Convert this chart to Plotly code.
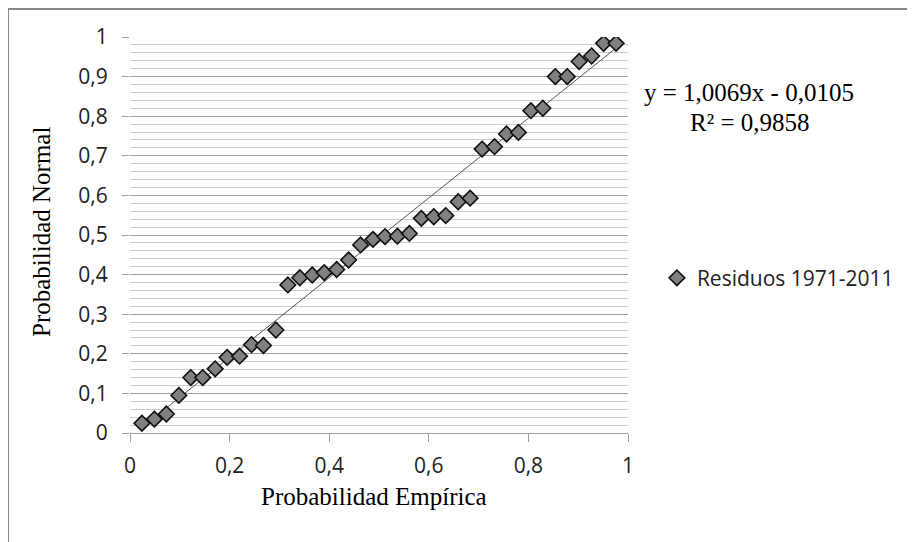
import plotly.graph_objects as go

# Empirical probability (x) and normal probability (y) of residuals 1971-2011
prob_empirica = [0.024, 0.049, 0.073, 0.098, 0.122, 0.146, 0.171, 0.195, 0.220, 0.244,
                 0.268, 0.293, 0.317, 0.341, 0.366, 0.390, 0.415, 0.439, 0.463, 0.488,
                 0.512, 0.537, 0.561, 0.585, 0.610, 0.634, 0.659, 0.683, 0.707, 0.732,
                 0.756, 0.780, 0.805, 0.829, 0.854, 0.878, 0.902, 0.927, 0.951, 0.976]
prob_normal = [0.0245, 0.035, 0.048, 0.095, 0.140, 0.140, 0.162, 0.191, 0.194, 0.223,
               0.221, 0.260, 0.374, 0.392, 0.399, 0.405, 0.413, 0.437, 0.475, 0.489,
               0.496, 0.497, 0.504, 0.542, 0.546, 0.549, 0.584, 0.593, 0.717, 0.723,
               0.755, 0.759, 0.814, 0.820, 0.900, 0.900, 0.938, 0.952, 0.984, 0.984]

slope = 1.0069
intercept = -0.0105
eq_text = "y = 1,0069x - 0,0105"
r2_text = "R² = 0,9858"
series_name = "Residuos 1971-2011"

x_ticks = [0, 0.2, 0.4, 0.6, 0.8, 1]
y_ticks = [0, 0.1, 0.2, 0.3, 0.4, 0.5, 0.6, 0.7, 0.8, 0.9, 1]

trend_x = [min(prob_empirica), max(prob_empirica)]
trend_y = [slope * v + intercept for v in trend_x]

fig = go.Figure()
fig.add_trace(go.Scatter(
    x=trend_x, y=trend_y, mode="lines",
    line=dict(color="#555555", width=1), showlegend=False, hoverinfo="skip"))
fig.add_trace(go.Scatter(
    x=prob_empirica, y=prob_normal, mode="markers", name=series_name,
    marker=dict(symbol="diamond", size=12, color="#808080",
                line=dict(color="#111111", width=1.6))))

serif = "Liberation Serif"
sans = "Open Sans"

fig.update_layout(
    width=915, height=542,
    margin=dict(l=122, r=295, t=29, b=117),
    paper_bgcolor="white", plot_bgcolor="white",
    separators=", ",
    showlegend=True,
    legend=dict(x=1.058, y=0.391, xanchor="left", yanchor="middle",
                font=dict(family=sans, size=21, color="#222222"),
                bgcolor="rgba(0,0,0,0)", itemwidth=30),
    xaxis=dict(range=[0, 1], tickvals=x_ticks, showgrid=False, zeroline=False,
               showline=True, linecolor="#a0a0a0", linewidth=1,
               ticks="outside", ticklen=8, tickcolor="#a0a0a0",
               tickfont=dict(family=sans, size=21, color="#222222"),
               ticklabelstandoff=6),
    yaxis=dict(range=[0, 1], tickvals=y_ticks, showgrid=True, gridcolor="#a0a0a0",
               gridwidth=1, zeroline=False, showline=False,
               ticks="outside", ticklen=7, tickcolor="#a0a0a0",
               tickfont=dict(family=sans, size=21, color="#222222"),
               ticklabelstandoff=10,
               minor=dict(dtick=0.02, showgrid=True, gridcolor="#cccccc",
                          gridwidth=1, ticks="")),
    annotations=[
        dict(text="Probabilidad Empírica", xref="paper", yref="paper",
             x=0.490, y=-0.1616, xanchor="center", yanchor="middle",
             showarrow=False, font=dict(family=serif, size=25, color="black")),
        dict(text="Probabilidad Normal", xref="paper", yref="paper",
             x=-0.1767, y=0.5076, xanchor="center", yanchor="middle", textangle=-90,
             showarrow=False, font=dict(family=serif, size=25, color="black")),
        dict(text=eq_text, xref="paper", yref="paper",
             x=1.242, y=0.861, xanchor="center", yanchor="middle",
             showarrow=False, font=dict(family=serif, size=25, color="black")),
        dict(text=r2_text, xref="paper", yref="paper",
             x=1.245, y=0.785, xanchor="center", yanchor="middle",
             showarrow=False, font=dict(family=serif, size=25, color="black")),
    ],
    shapes=[
        dict(type="line", xref="paper", yref="paper", x0=-0.245, x1=1.6,
             y0=1.0707, y1=1.0707, line=dict(color="#888888", width=2)),
        dict(type="line", xref="paper", yref="paper", x0=-0.245, x1=-0.245,
             y0=-0.3, y1=1.0707, line=dict(color="#888888", width=2)),
    ],
)

fig.write_html("out.html")
